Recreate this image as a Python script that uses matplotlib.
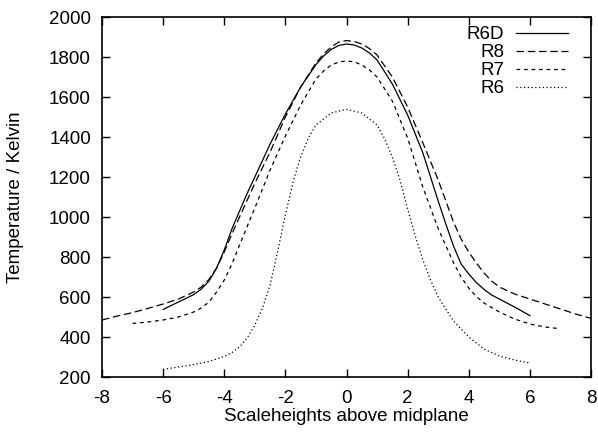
import matplotlib
matplotlib.use("Agg")
from matplotlib import pyplot as plt

plt.rcParams['font.family'] = ['Liberation Sans', 'DejaVu Sans']
plt.rcParams['axes.unicode_minus'] = False

# scaleheights vs temperature (K)
x_r6d = [-6, -5.5, -5, -4.75, -4.5, -4.25, -4, -3.75, -3.5, -3.25, -3, -2.5, -2, -1.5, -1,
         -0.75, -0.5, -0.25, 0, 0.25, 0.5, 0.75, 1, 1.5, 2, 2.5, 3, 3.25, 3.5, 3.75, 4,
         4.25, 4.5, 4.75, 5, 5.5, 6]
t_r6d = [538, 575, 612, 640, 680, 745, 835, 940, 1030, 1118, 1200, 1365, 1515, 1650, 1762,
         1805, 1838, 1858, 1865, 1860, 1845, 1820, 1785, 1665, 1510, 1320, 1080, 965, 855, 765, 715,
         672, 638, 610, 590, 550, 507]

x_r8 = [-8, -7.5, -7, -6.5, -6, -5.5, -5, -4.75, -4.5, -4.25, -4, -3.75, -3.5, -3, -2.5, -2,
        -1.5, -1, -0.75, -0.5, -0.25, 0, 0.25, 0.5, 0.75, 1, 1.5, 2, 2.5, 3, 3.5, 3.75, 4,
        4.25, 4.5, 4.75, 5, 5.5, 6, 6.5, 7, 7.5, 8]
t_r8 = [485, 505, 522, 543, 565, 590, 625, 650, 688, 745, 825, 915, 1000, 1168, 1325, 1500,
        1650, 1770, 1815, 1850, 1875, 1882, 1878, 1865, 1842, 1810, 1700, 1550, 1370, 1185, 975, 890, 825,
        770, 720, 680, 650, 615, 590, 565, 540, 515, 493]

x_r7 = [-7, -6.5, -6, -5.5, -5, -4.75, -4.5, -4.25, -4, -3.75, -3.5, -3, -2.5, -2, -1.5, -1,
        -0.75, -0.5, -0.25, 0, 0.25, 0.5, 0.75, 1, 1.5, 2, 2.5, 3, 3.5, 3.75, 4,
        4.25, 4.5, 5, 5.5, 6, 6.5, 6.9]
t_r7 = [468, 475, 485, 500, 525, 545, 575, 625, 685, 765, 860, 1045, 1235, 1405, 1560, 1690,
        1730, 1760, 1775, 1780, 1776, 1760, 1735, 1700, 1580, 1395, 1148, 942, 772, 700, 645,
        602, 570, 525, 490, 465, 450, 443]

x_r6 = [-6, -5.5, -5, -4.5, -4, -3.75, -3.5, -3.25, -3, -2.75, -2.5, -2.25, -2, -1.75, -1.5,
        -1.25, -1, -0.5, 0, 0.5, 1, 1.25, 1.5, 1.75, 2, 2.25, 2.5, 2.75, 3, 3.5, 4,
        4.5, 5, 5.5, 6]
t_r6 = [238, 250, 262, 278, 303, 322, 350, 395, 460, 545, 660, 830, 1010, 1175, 1300,
        1395, 1460, 1520, 1538, 1520, 1460, 1390, 1300, 1185, 1040, 905, 785, 685, 600, 480, 400,
        340, 305, 285, 270]

fig = plt.figure(figsize=(5.98, 4.36), dpi=100)
ax = fig.add_axes([0.1706, 0.1353, 0.8177, 0.8257])

lw = 0.9
ax.plot(x_r6d, t_r6d, color='black', lw=lw, label='R6D')
ax.plot(x_r8, t_r8, color='black', lw=lw, dashes=(6, 3), label='R8')
ax.plot(x_r7, t_r7, color='black', lw=lw, dashes=(3, 3), label='R7')
ax.plot(x_r6, t_r6, color='black', lw=lw, dashes=(1, 2), label='R6')

fs = 13.5
ax.set_xlim(-8, 8)
ax.set_ylim(200, 2000)
ax.set_xticks(range(-8, 9, 2))
ax.set_yticks(range(200, 2001, 200))
ax.tick_params(direction='in', length=6, width=1, top=True, right=True, labelsize=fs)
ax.tick_params(axis='x', pad=9)
ax.tick_params(axis='y', pad=8)
for s in ax.spines.values():
    s.set_linewidth(1.2)

ax.set_xlabel('Scaleheights above midplane', fontsize=fs, labelpad=1)
ax.set_ylabel('Temperature / Kelvin', fontsize=fs, labelpad=18)

ax.legend(loc='upper right', bbox_to_anchor=(568 / 598, 0.94), bbox_transform=fig.transFigure,
          frameon=False, markerfirst=False, fontsize=fs,
          handlelength=2.8, handletextpad=0.6, labelspacing=0.05,
          borderaxespad=0, borderpad=0)

fig.savefig('out.png', dpi=100)
